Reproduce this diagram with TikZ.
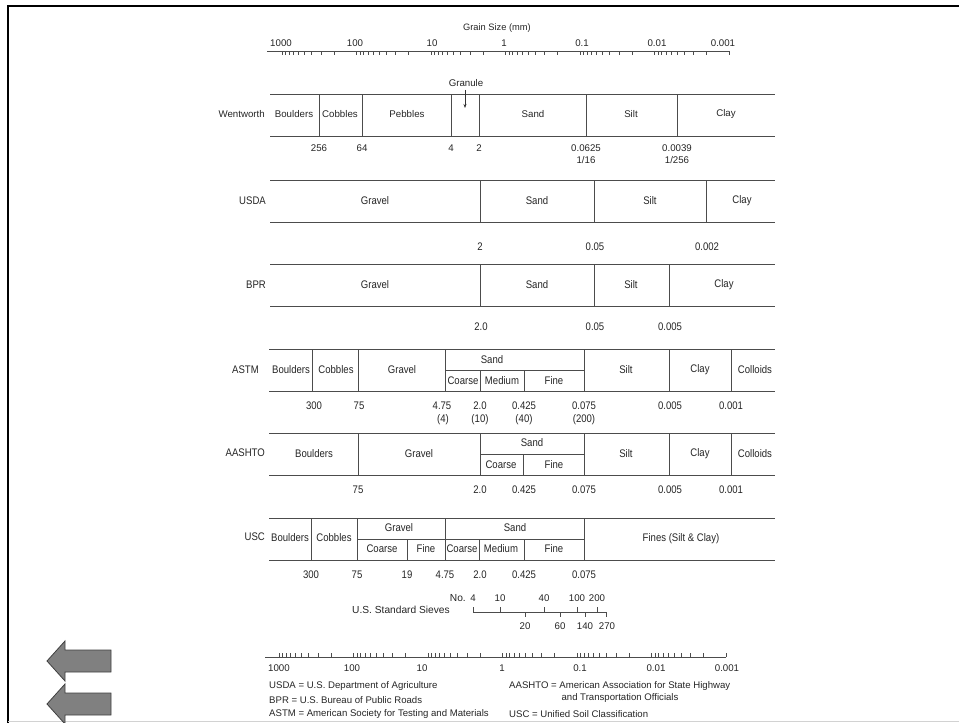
\documentclass[tikz,border=0pt]{standalone}
\usepackage{fontspec}
\setmainfont{Liberation Sans}
\newfontfamily\narrowfont[FakeStretch=0.87]{Liberation Sans}
\usetikzlibrary{arrows.meta}
\begin{document}
\begin{tikzpicture}[x=1pt,y=-1pt,
  txt/.style={font=\fontsize{9.7}{11}\selectfont, inner sep=0pt, text=black!85},
  ntxt/.style={font=\narrowfont\fontsize{11}{12}\selectfont, inner sep=0pt, text=black!85},
  rowname/.style={ntxt, anchor=east},
  lgd/.style={font=\fontsize{9.6}{11}\selectfont, inner sep=0pt, text=black!85, anchor=west},
  sieve/.style={font=\fontsize{10.2}{11}\selectfont, inner sep=0pt, text=black!85},
  rl/.style={draw=black!70, line width=0.8pt},
  tk/.style={draw=black!70, line width=0.6pt},
  frameline/.style={draw=black, line width=2.2pt},
  garrow/.style={fill={rgb,255:red,128;green,128;blue,128}, draw=black!75, line width=0.8pt},
  gran/.style={draw=black!80, line width=0.7pt, -{Stealth[length=4pt,width=3pt]}}
]
\useasboundingbox (0,0) rectangle (959,723);
\fill[white] (0,0) rectangle (959,723);
% frame
\draw[frameline] (8,723) -- (8,6) -- (959,6);
\draw[gray!35, line width=1pt] (8,721) -- (959,721);

% ---------- top grain size axis ----------
\node[txt, font=\fontsize{9.3}{11}\selectfont] (gs) at (497,28) {Grain Size (mm)};
\draw[tk] (267,51) -- (729,51);
\foreach \d in {282,356.5,431,505.5,580,654.5}{
  \draw[tk] (\d,51) -- ++(0,4);
  \foreach \m in {2,...,9}{
    \pgfmathsetmacro{\xx}{\d+(1-log10(\m))*74.5}
    \draw[tk] (\xx,51) -- ++(0,4);
  }
}
\draw[tk] (729,51) -- ++(0,4);
\node[txt] (t1) at (281,43) {1000};
\node[txt] (t2) at (355,43) {100};
\node[txt] (t3) at (432,43) {10};
\node[txt] (t4) at (504,43) {1};
\node[txt] (t5) at (582,43) {0.1};
\node[txt] (t6) at (657,43) {0.01};
\node[txt] (t7) at (723,43) {0.001};

% ---------- Wentworth ----------
\draw[rl] (270,94) -- (775,94);
\draw[rl] (270,136) -- (775,136);
\foreach \x in {319,362,451,479,586,677} \draw[rl] (\x,94) -- (\x,136);
\node[txt, anchor=east] (wl) at (265,114) {Wentworth};
\node[txt] (w1) at (294,114) {Boulders};
\node[txt] (w2) at (340,114) {Cobbles};
\node[txt] (w3) at (407,114) {Pebbles};
\node[txt] (w4) at (533,114) {Sand};
\node[txt] (w5) at (631,114) {Silt};
\node[txt] (w6) at (726,114) {Clay};
\node[txt] (gr) at (466,83) {Granule};
\coordinate (grend) at (465,108);
\draw[gran] ([xshift=-1pt,yshift=-3pt]gr.south) -- (grend);
\node[txt] (wn1) at (319,148) {256};
\node[txt] (wn2) at (362,148) {64};
\node[txt] (wn3) at (451,148) {4};
\node[txt] (wn4) at (479,148) {2};
\node[txt] (wn5) at (586,148) {0.0625};
\node[txt] (wn6) at (586,160) {1/16};
\node[txt] (wn7) at (677,148) {0.0039};
\node[txt] (wn8) at (677,160) {1/256};

% ---------- USDA ----------
\draw[rl] (270,180) -- (775,180);
\draw[rl] (270,222) -- (775,222);
\foreach \x in {480,594,706} \draw[rl] (\x,180) -- (\x,222);
\node[rowname] (ul) at (266,201) {USDA};
\node[ntxt] (u1) at (375,201) {Gravel};
\node[ntxt] (u2) at (537,201) {Sand};
\node[ntxt] (u3) at (650,201) {Silt};
\node[ntxt] (u4) at (742,201) {Clay};
\node[ntxt] (un1) at (480,247) {2};
\node[ntxt] (un2) at (595,247) {0.05};
\node[ntxt] (un3) at (707,247) {0.002};

% ---------- BPR ----------
\draw[rl] (270,264) -- (775,264);
\draw[rl] (270,306) -- (775,306);
\foreach \x in {480,594,669} \draw[rl] (\x,264) -- (\x,306);
\node[rowname] (bl) at (266,285) {BPR};
\node[ntxt] (b1) at (375,285) {Gravel};
\node[ntxt] (b2) at (537,285) {Sand};
\node[ntxt] (b3) at (631,285) {Silt};
\node[ntxt] (b4) at (724,285) {Clay};
\node[ntxt] (bn1) at (481,327) {2.0};
\node[ntxt] (bn2) at (595,327) {0.05};
\node[ntxt] (bn3) at (670,327) {0.005};

% ---------- ASTM ----------
\draw[rl] (269,349) -- (775,349);
\draw[rl] (269,391) -- (775,391);
\foreach \x in {312,358,445,584,669,731} \draw[rl] (\x,349) -- (\x,391);
\draw[rl] (445,370) -- (584,370);
\foreach \x in {480,524} \draw[rl] (\x,370) -- (\x,391);
\node[rowname] (al) at (259,370) {ASTM};
\node[ntxt] (a1) at (291,370) {Boulders};
\node[ntxt] (a2) at (336,370) {Cobbles};
\node[ntxt] (a3) at (402,370) {Gravel};
\node[ntxt] (a4) at (492,360) {Sand};
\node[ntxt] (a5) at (463,381) {Coarse};
\node[ntxt] (a6) at (502,381) {Medium};
\node[ntxt] (a7) at (554,381) {Fine};
\node[ntxt] (a8) at (626,370) {Silt};
\node[ntxt] (a9) at (700,370) {Clay};
\node[ntxt] (a10) at (755,370) {Colloids};
\node[ntxt] (an1) at (314,406) {300};
\node[ntxt] (an2) at (359,406) {75};
\node[ntxt] (an3) at (442,406) {4.75};
\node[ntxt] (an4) at (480,406) {2.0};
\node[ntxt] (an5) at (524,406) {0.425};
\node[ntxt] (an6) at (584,406) {0.075};
\node[ntxt] (an7) at (670,406) {0.005};
\node[ntxt] (an8) at (731,406) {0.001};
\node[ntxt] (ap1) at (443,420) {(4)};
\node[ntxt] (ap2) at (480,420) {(10)};
\node[ntxt] (ap3) at (524,420) {(40)};
\node[ntxt] (ap4) at (584,420) {(200)};

% ---------- AASHTO ----------
\draw[rl] (269,433) -- (775,433);
\draw[rl] (269,475) -- (775,475);
\foreach \x in {358,480,584,669,731} \draw[rl] (\x,433) -- (\x,475);
\draw[rl] (480,454) -- (584,454);
\draw[rl] (523,454) -- (523,475);
\node[rowname] (hl) at (265,453) {AASHTO};
\node[ntxt] (h1) at (314,454) {Boulders};
\node[ntxt] (h2) at (419,454) {Gravel};
\node[ntxt] (h3) at (532,443) {Sand};
\node[ntxt] (h4) at (501,465) {Coarse};
\node[ntxt] (h5) at (554,465) {Fine};
\node[ntxt] (h6) at (626,454) {Silt};
\node[ntxt] (h7) at (700,454) {Clay};
\node[ntxt] (h8) at (755,454) {Colloids};
\node[ntxt] (hn1) at (358,490) {75};
\node[ntxt] (hn2) at (480,490) {2.0};
\node[ntxt] (hn3) at (524,490) {0.425};
\node[ntxt] (hn4) at (584,490) {0.075};
\node[ntxt] (hn5) at (670,490) {0.005};
\node[ntxt] (hn6) at (731,490) {0.001};

% ---------- USC ----------
\draw[rl] (269,518) -- (775,518);
\draw[rl] (269,560) -- (775,560);
\foreach \x in {311,357,445,584} \draw[rl] (\x,518) -- (\x,560);
\draw[rl] (357,539) -- (584,539);
\foreach \x in {407,479,524} \draw[rl] (\x,539) -- (\x,560);
\node[rowname] (cl) at (265,537) {USC};
\node[ntxt] (c1) at (290,538) {Boulders};
\node[ntxt] (c2) at (334,538) {Cobbles};
\node[ntxt] (c3) at (399,528) {Gravel};
\node[ntxt] (c4) at (515,528) {Sand};
\node[ntxt] (c5) at (382,549) {Coarse};
\node[ntxt] (c6) at (426,549) {Fine};
\node[ntxt] (c7) at (462,549) {Coarse};
\node[ntxt] (c8) at (501,549) {Medium};
\node[ntxt] (c9) at (554,549) {Fine};
\node[ntxt] (c10) at (681,539) {Fines (Silt \& Clay)};
\node[ntxt] (cn1) at (311,575) {300};
\node[ntxt] (cn2) at (357,575) {75};
\node[ntxt] (cn3) at (407,575) {19};
\node[ntxt] (cn4) at (445,575) {4.75};
\node[ntxt] (cn5) at (480,575) {2.0};
\node[ntxt] (cn6) at (524,575) {0.425};
\node[ntxt] (cn7) at (584,575) {0.075};

% ---------- sieves ----------
\node[sieve, anchor=east] (no) at (466,598) {No.};
\node[txt] (s4) at (473,598) {4};
\node[txt] (s10) at (500,598) {10};
\node[txt] (s40) at (544,598) {40};
\node[txt] (s100) at (577,598) {100};
\node[txt] (s200) at (597,598) {200};
\node[sieve] (sv) at (401,610) {U.S. Standard Sieves};
\draw[tk] (473,612) -- (606,612);
\foreach \x in {473,500,544,577,597} \draw[tk] (\x,612) -- ++(0,-5);
\foreach \x in {525,560,585,606} \draw[tk] (\x,612) -- ++(0,5);
\node[txt] (s20) at (525,626) {20};
\node[txt] (s60) at (560,626) {60};
\node[txt] (s140) at (585,626) {140};
\node[txt] (s270) at (607,626) {270};

% ---------- bottom axis ----------
\draw[tk] (265,657) -- (726,657);
\foreach \d in {279,353.5,428,502.5,577,651.5}{
  \draw[tk] (\d,657) -- ++(0,-4);
  \foreach \m in {2,...,9}{
    \pgfmathsetmacro{\xx}{\d+(1-log10(\m))*74.5}
    \draw[tk] (\xx,657) -- ++(0,-4);
  }
}
\draw[tk] (726,657) -- ++(0,-4);
\node[txt] (bb1) at (279,668) {1000};
\node[txt] (bb2) at (352,668) {100};
\node[txt] (bb3) at (422,668) {10};
\node[txt] (bb4) at (502,668) {1};
\node[txt] (bb5) at (580,668) {0.1};
\node[txt] (bb6) at (656,668) {0.01};
\node[txt] (bb7) at (727,668) {0.001};

% ---------- legend ----------
\node[lgd] (lg1) at (269,686) {USDA = U.S. Department of Agriculture};
\node[lgd] (lg2) at (269,700) {BPR = U.S. Bureau of Public Roads};
\node[lgd] (lg3) at (269,714) {ASTM = American Society for Testing and Materials};
\node[lgd] (lg4) at (509,686) {AASHTO = American Association for State Highway};
\node[lgd, anchor=center] (lg5) at (620,698) {and Transportation Officials};
\node[lgd] (lg6) at (509,714) {USC = Unified Soil Classification};

% ---------- gray arrows ----------
\draw[garrow] (47,661) -- (65,641) -- (65,650) -- (111,650) -- (111,672) -- (65,672) -- (65,681) -- cycle;
\draw[garrow] (47,704) -- (65,684) -- (65,693) -- (111,693) -- (111,715) -- (65,715) -- (65,724) -- cycle;
\end{tikzpicture}
\end{document}
